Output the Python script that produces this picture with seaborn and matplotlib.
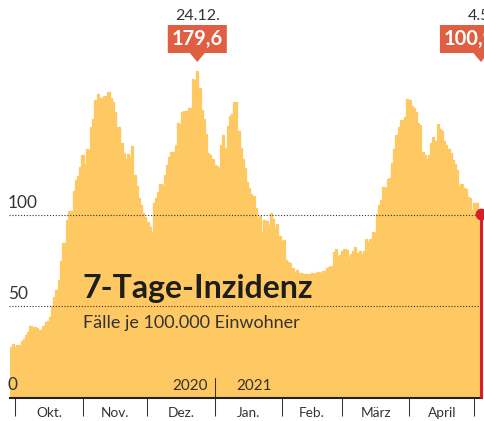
import numpy as np
import pandas as pd
import matplotlib.pyplot as plt
import matplotlib.transforms as mtransforms
from matplotlib.patches import Polygon
import seaborn as sns

# 7-Tage-Inzidenz, Faelle je 100.000 Einwohner, ein Wert pro Tag
START, END = '2020-09-29', '2021-05-04'

sep = [27.6, 29.4]
okt = [27.6, 28.8, 28.8, 31.0, 32.1, 34.3, 36.2, 39.5, 38.9, 38.6, 38.0, 37.0, 37.0, 39.5, 41.7, 42.0,
       44.4, 50.3, 55.4, 59.0, 64.6, 74.8, 84.7, 85.0, 97.5, 102.5, 102.5, 113.5, 119.5, 121.7, 126.8]
nov = [133.2, 128.3, 136.3, 136.0, 148.8, 152.8, 163.5, 166.6, 164.8, 164.8, 165.9, 165.7, 167.8, 164.6, 162.4,
       156.7, 148.8, 148.8, 140.0, 134.5, 130.9, 133.8, 132.0, 138.2, 122.3, 116.2, 109.8, 105.8, 101.2, 99.4]
dez = [96.6, 93.9, 91.1, 106.7, 109.4, 113.1, 117.1, 116.8, 122.0, 127.7, 132.3, 135.0, 135.0, 138.7, 151.0, 150.0,
       156.7, 157.4, 157.4, 158.9, 158.9, 175.0, 174.5, 179.6, 169.9, 158.0, 153.0, 145.0, 134.5, 133.2, 130.9]
jan = [127.7, 127.2, 126.3, 138.7, 144.2, 137.3, 149.2, 154.7, 155.8, 162.4, 162.4, 146.6, 136.9, 131.2, 125.9,
       118.6, 115.3, 111.8, 110.5, 104.3, 98.5, 99.7, 91.1, 97.5, 97.2, 95.0, 101.2, 98.2, 93.3, 95.3, 88.6]
feb = [86.2, 86.5, 75.5, 74.6, 73.7, 71.0, 69.1, 70.0, 68.6, 68.2, 67.8, 67.8, 67.6, 67.9, 68.2, 67.8, 68.6, 68.8,
       68.6, 69.5, 69.5, 71.0, 71.5, 72.3, 79.8, 81.6, 77.7, 78.3]
mar = [80.5, 81.6, 81.0, 77.2, 78.8, 80.5, 82.7, 79.4, 80.5, 78.8, 80.5, 87.1, 85.6, 87.1, 90.9, 90.9, 100.8,
       105.8, 108.5, 115.6, 114.9, 120.0, 120.6, 128.7, 136.4, 144.2, 148.8, 152.5, 152.5, 154.0, 163.8]
apr = [163.5, 160.2, 158.9, 156.7, 150.6, 149.7, 135.0, 133.2, 131.0, 133.2, 139.6, 143.0, 141.0, 150.3, 147.3,
       146.4, 141.0, 138.7, 136.5, 134.2, 130.5, 128.1, 125.0, 116.2, 117.3, 115.0, 114.7, 110.3, 109.4, 103.0]
mai = [106.7, 106.7, 103.0, 100.9]

MONTHS = ['Okt.', 'Nov.', 'Dez.', 'Jan.', 'Feb.', 'März', 'April']
Y_LABELS = [0, 50, 100]
YEARS = ['2020', '2021']
TITLE = '7-Tage-Inzidenz'
SUBTITLE = 'Fälle je 100.000 Einwohner'

BAR = '#fec862'
CALLOUT = '#e05e42'
RED = '#d91e28'
INK = '#333333'

values = sep + okt + nov + dez + jan + feb + mar + apr + mai
df = pd.DataFrame({'datum': pd.date_range(START, END, freq='D'), 'inzidenz': values})
df['tag'] = np.arange(len(df))

sns.set_theme(style='white')
plt.rcParams['font.family'] = ['Lato', 'DejaVu Sans']

W, H = 485, 421
AX_L, AX_W, AX_B, AX_H = 10, 472, 23.5, 397.5
YMAX = 218.4

fig = plt.figure(figsize=(W / 100, H / 100), dpi=100)
ax = fig.add_axes([AX_L / W, AX_B / H, AX_W / W, AX_H / H])

sns.barplot(data=df, x='tag', y='inzidenz', color=BAR, saturation=1, width=1, errorbar=None,
            edgecolor=BAR, linewidth=0.9, ax=ax)
ax.set_xlim(-0.5, len(df) - 0.5)
ax.set_ylim(0, YMAX)
ax.set_xlabel('')
ax.set_ylabel('')
ax.set_yticks([])

# pixel -> data helpers
px_x = AX_W / len(df)
px_y = AX_H / YMAX
def ydat(py):
    return (AX_H - py) / px_y

for s in ['top', 'left', 'right']:
    ax.spines[s].set_visible(False)
ax.spines['bottom'].set_color('#222222')
ax.spines['bottom'].set_linewidth(1.5)
ax.spines['bottom'].set_zorder(6)

ylab = mtransforms.blended_transform_factory(ax.transAxes, ax.transData)
for v in Y_LABELS:
    if v > 0:
        ax.plot([-1 / AX_W, 1 - 2 / AX_W], [v, v], transform=ylab, color=INK, lw=0.8,
                ls=(0, (1, 1.6)), clip_on=False, zorder=5)
    ax.text(-2 / AX_W, v + 4.1, str(v), transform=ylab, ha='left', va='baseline',
            fontsize=12.4, color=INK, zorder=6)

# month ticks
starts = df.index[df['datum'].dt.day == 1].to_numpy()
ax.set_xticks(starts)
ax.set_xticklabels([''] * len(starts))
ax.set_xticks((starts[:-1] + starts[1:]) / 2, minor=True)
ax.set_xticklabels(MONTHS, minor=True)
ax.tick_params(axis='x', which='major', bottom=True, length=13, width=0.75, color=INK, direction='out')
ax.tick_params(axis='x', which='minor', bottom=True, length=0, pad=6.5, labelsize=9.8, labelcolor=INK)

# year divider
jan1 = df.index[df['datum'] == '2021-01-01'][0]
ax.plot([jan1, jan1], [0, ydat(378)], color=INK, lw=0.75, zorder=6)
ax.annotate(YEARS[0], (jan1, 0), xytext=(-5, 5.4), textcoords='offset points', ha='right',
            va='baseline', fontsize=11, color=INK)
ax.annotate(YEARS[1], (jan1, 0), xytext=(15.8, 5.4), textcoords='offset points', ha='left',
            va='baseline', fontsize=11, color=INK)

# title
ax.text((83 - AX_L) / AX_W, (AX_H - 298) / AX_H, TITLE, transform=ax.transAxes, fontsize=23,
        fontweight='bold', color='#1d1d1b', ha='left', va='baseline', zorder=6)
ax.text((83 - AX_L) / AX_W, (AX_H - 328) / AX_H, SUBTITLE, transform=ax.transAxes, fontsize=13,
        color=INK, ha='left', va='baseline', zorder=6)

# last value: red line and dot
last = df.iloc[-1]
ax.plot([last['tag'], last['tag']], [0, last['inzidenz']], color=RED, lw=2.2, solid_capstyle='butt',
        clip_on=False, zorder=7)
ax.plot(last['tag'], last['inzidenz'], 'o', color=RED, ms=7.5, clip_on=False, zorder=8)


def callout(row, shift_px=0):
    x = row['tag']
    cx = x + shift_px / px_x
    hw = 29.5 / px_x
    pw = 7.5 / px_x
    top, bot, tip = ydat(25), ydat(53), ydat(62)
    verts = [(cx - hw, top), (cx + hw, top), (cx + hw, bot), (x + pw, bot), (x, tip),
             (x - pw, bot), (cx - hw, bot)]
    ax.add_patch(Polygon(verts, closed=True, fc=CALLOUT, ec='none', clip_on=False, zorder=8))
    ax.text(cx, ydat(45), f"{row['inzidenz']:.1f}".replace('.', ','), ha='center', va='baseline',
            fontsize=14.5, fontweight='bold', color='white', zorder=9, clip_on=False)
    d = row['datum']
    ax.text(x, ydat(20), f'{d.day}.{d.month}.', ha='center', va='baseline', fontsize=11.5,
            color=INK, zorder=9, clip_on=False)


callout(df.loc[df['inzidenz'].idxmax()])
callout(last, shift_px=-11.5)

fig.savefig('out.png', dpi=100)
